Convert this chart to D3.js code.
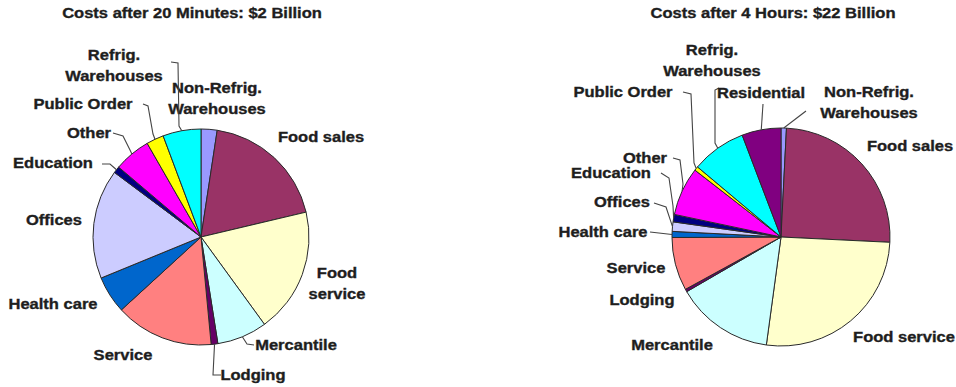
<!DOCTYPE html>
<html>
<head>
<meta charset="utf-8">
<script src="https://cdn.jsdelivr.net/npm/d3@7/dist/d3.min.js"></script>
<style>
  html, body { margin: 0; padding: 0; background: #fff; }
  svg { display: block; }
  text { font-family: "Liberation Sans", Arial, sans-serif; font-weight: bold; fill: #1e1e1e;
         stroke: #1e1e1e; stroke-width: 0.35px; }
</style>
</head>
<body>
<svg id="chart" width="956" height="387"></svg>
<script>
// Outage cost shares by building type (percent of total), clockwise from 12 o'clock
const titles = ["Costs after 20 Minutes: $2 Billion", "Costs after 4 Hours: $22 Billion"];

const categories20m = ["Non-Refrig. Warehouses", "Food sales", "Food service", "Mercantile", "Lodging",
  "Service", "Health care", "Offices", "Education", "Other", "Public Order", "Refrig. Warehouses"];
const values20m = [2.4, 18.9, 18.7, 7.5, 1.0, 14.7, 5.6, 16.4, 1.0, 5.5, 2.6, 5.7];

const categories4h = ["Non-Refrig. Warehouses", "Food sales", "Food service", "Mercantile", "Lodging",
  "Service", "Health care", "Offices", "Education", "Other", "Public Order", "Refrig. Warehouses", "Residential"];
const values4h = [0.8, 25.0, 26.4, 14.5, 0.4, 7.9, 0.9, 1.4, 1.1, 7.2, 0.6, 8.1, 5.8];

// Fill per building type
const palette = {
  "Non-Refrig. Warehouses": "#9999ff",
  "Food sales": "#993366",
  "Food service": "#ffffcc",
  "Mercantile": "#ccffff",
  "Lodging": "#660066",
  "Service": "#ff8080",
  "Health care": "#0066cc",
  "Offices": "#ccccff",
  "Education": "#000080",
  "Other": "#ff00ff",
  "Public Order": "#ffff00",
  "Refrig. Warehouses": "#00ffff",
  "Residential": "#800080"
};

// Label placement: centre of text, optional two-line wrap, leader bend points (leader ends on the slice rim)
const layout20m = {
  cx: 201, cy: 237, r: 108, titleX: 192,
  labels: {
    "Refrig. Warehouses": { x: 114, y: 55, wrap: true, leader: [[171, 62], [178, 63], [179, 126]] },
    "Non-Refrig. Warehouses": { x: 217, y: 88, wrap: true },
    "Food sales": { x: 321, y: 137 },
    "Food service": { x: 337, y: 273, wrap: true },
    "Mercantile": { x: 296, y: 345, leader: [[254, 345], [247, 344]] },
    "Lodging": { x: 253, y: 375, leader: [[221, 375], [213, 375]] },
    "Service": { x: 123, y: 355 },
    "Health care": { x: 53, y: 304 },
    "Offices": { x: 54, y: 220 },
    "Education": { x: 53, y: 163, leader: [[102, 164], [110, 164]] },
    "Other": { x: 89, y: 133, leader: [[113, 133], [123, 136], [130, 150]] },
    "Public Order": { x: 83, y: 104, leader: [[143, 104], [148, 106], [153, 134]] }
  }
};

const layout4h = {
  cx: 781, cy: 237, r: 109, titleX: 773,
  labels: {
    "Refrig. Warehouses": { x: 712, y: 50, wrap: true, leader: [[719, 88], [715, 90], [715, 143]] },
    "Residential": { x: 761, y: 93, leader: [[763, 104]] },
    "Non-Refrig. Warehouses": { x: 869, y: 92, wrap: true, leader: [[806, 111]] },
    "Food sales": { x: 910, y: 146 },
    "Food service": { x: 904, y: 337 },
    "Mercantile": { x: 672, y: 345 },
    "Lodging": { x: 642, y: 300 },
    "Service": { x: 636, y: 268 },
    "Health care": { x: 603, y: 232, leader: [[650, 232]] },
    "Offices": { x: 622, y: 202, leader: [[654, 203], [666, 207]] },
    "Education": { x: 611, y: 173, leader: [[661, 173], [669, 178], [673, 206]] },
    "Other": { x: 645, y: 158, leader: [[673, 158], [680, 160], [683, 184]] },
    "Public Order": { x: 623, y: 92, leader: [[683, 92], [691, 94], [694, 163]] }
  }
};

const svg = d3.select("#chart");
const fontSize = 14.5;
const stretch = 1.14;

function addText(g, x, y, lines) {
  const t = g.append("text")
    .attr("transform", `translate(${x},${y}) scale(${stretch},1)`)
    .attr("text-anchor", "middle")
    .style("font-size", fontSize + "px");
  lines.forEach((line, i) => {
    t.append("tspan").attr("x", 0).attr("y", i * 21).attr("dy", "0.35em").text(line);
  });
  return t;
}

function drawPie(title, categories, values, lay) {
  const g = svg.append("g");
  addText(g, lay.titleX, 13, [title]);

  const items = categories.map((c, i) => ({ name: c, value: values[i] }));
  const arcs = d3.pie().sort(null).value(d => d.value)(items);
  const arc = d3.arc().innerRadius(0).outerRadius(lay.r);
  const rim = d3.arc().innerRadius(lay.r).outerRadius(lay.r);

  const pg = g.append("g").attr("transform", `translate(${lay.cx},${lay.cy})`);
  pg.selectAll("path.slice").data(arcs).join("path")
    .attr("class", "slice")
    .attr("d", arc)
    .attr("fill", d => palette[d.data.name])
    .attr("stroke", "#2a2a2a")
    .attr("stroke-width", 1)
    .attr("stroke-linejoin", "round");

  const line = d3.line();
  arcs.forEach(d => {
    const lab = lay.labels[d.data.name];
    if (!lab) return;
    if (lab.leader) {
      const [rx, ry] = rim.centroid(d);
      const pts = lab.leader.concat([[lay.cx + rx, lay.cy + ry]]);
      g.append("path")
        .attr("d", line(pts))
        .attr("fill", "none")
        .attr("stroke", "#444")
        .attr("stroke-width", 1.1);
    }
    const name = d.data.name;
    let lines = [name];
    if (lab.wrap) {
      const k = name.indexOf(" ");
      lines = [name.slice(0, k), name.slice(k + 1)];
    }
    addText(g, lab.x, lab.y, lines);
  });
}

drawPie(titles[0], categories20m, values20m, layout20m);
drawPie(titles[1], categories4h, values4h, layout4h);
</script>
</body>
</html>
